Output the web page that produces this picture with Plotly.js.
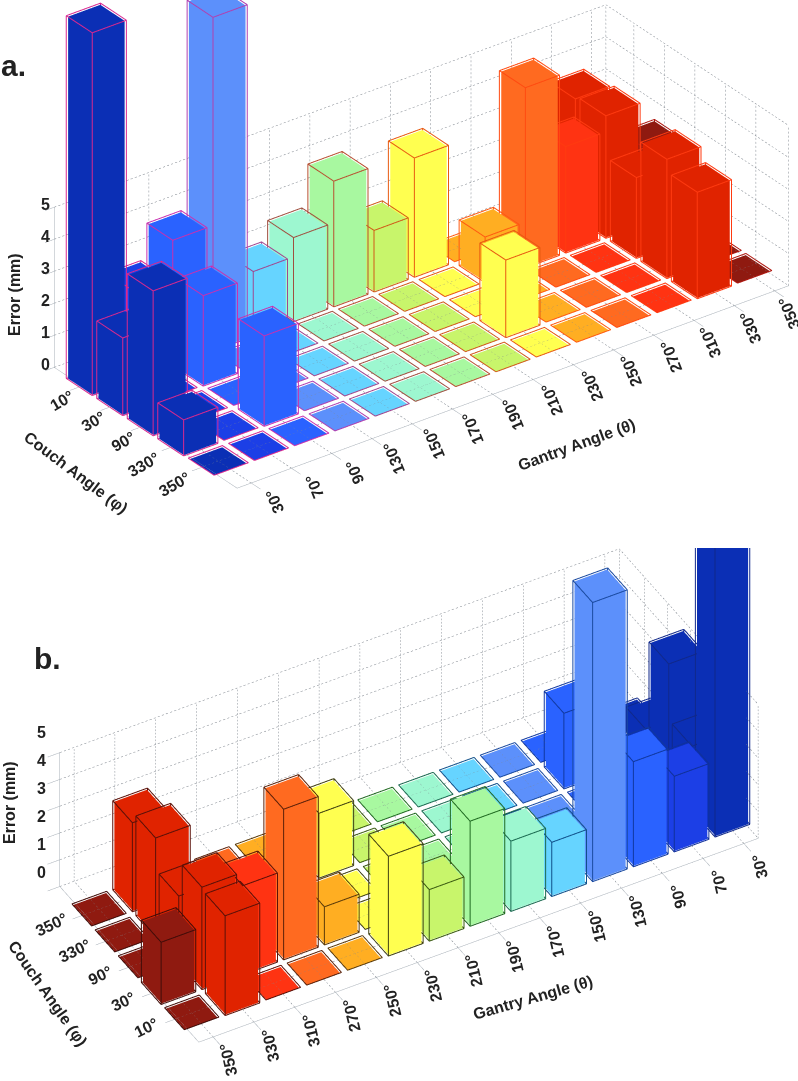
<!DOCTYPE html>
<html><head><meta charset="utf-8">
<script src="https://cdn.plot.ly/plotly-3.0.1.min.js"></script>
<style>html,body{margin:0;padding:0;background:#fff}#c{width:798px;height:1081px}</style>
</head><body><div id="c"></div>
<script>
const gantryLabels=['30°','70°','90°','130°','150°','170°','190°','210°','230°','250°','270°','310°','330°','350°'];
const couchLabels=['10°','30°','90°','330°','350°'];
const errorTicks=[0,1,2,3,4,5];
const couch10 =[11.3,2.8,3.9,10.4,2.0,2.6,3.9,1.9,3.7,0,0,0,3.7,0];
const couch30 =[2.4,0,2.8,0,0,0,0,0,0,1.4,5.6,3.3,3.8,2.3];
const couch90 =[4.5,0,0,0,0,0,0,0,0,0,0,0,2.5,0];
const couch330=[1.1,0,2.8,0,0,0,0,0,2.4,0,0,0,3.7,0];
const couch350=[0,0,0,0,0,0,0,0,0,0,0,0,3.3,0];
const errors=[couch10,couch30,couch90,couch330,couch350];
const faceColors=['#0b2fb5','#1c3fe6','#2a62ff','#5c90fb','#66d4ff','#9df7d0','#a8f8a0','#c8f56b','#ffff50','#ffae22','#ff6a20','#ff3312','#e02300','#8f1a10'];
const edgeA=['#d8288f','#d8288f','#c830b0','#b040b0','#a04890','#a05040','#b85030','#d05a18','#e85a10','#ff5a10','#ff4a10','#ff3a10','#ff3a10','#b01810'];
const edgeB=['#10288a','#10309a','#10389f','#1a4aa0','#10508a','#1a6a50','#1f6a20','#3a5a10','#404010','#5a3a08','#5a2008','#5a1008','#5a1008','#400c08'];

const X_MAX=13.7,Y_MAX=6,X0=0.35,Y0=0.92,W=0.8,EPS=0.025,PAD=1;
const gx=k=>k+X0, cy=m=>Y_MAX-(m+Y0);

function barsFor(edge,sceneName){
  const out=[];
  gantryLabels.forEach((_,k)=>{
    const X=[],Y=[],Z=[],I=[],J=[],K=[],ex=[],ey=[],ez=[];
    couchLabels.forEach((__,m)=>{
      const h=errors[m][k]||0.001,x0=gx(k)-W/2,x1=gx(k)+W/2,y0=cy(m)-W/2,y1=cy(m)+W/2,b=X.length;
      [[x0,y0,0],[x1,y0,0],[x1,y1,0],[x0,y1,0],[x0,y0,h],[x1,y0,h],[x1,y1,h],[x0,y1,h]].forEach(p=>{X.push(p[0]);Y.push(p[1]);Z.push(p[2]);});
      [[0,1,2],[0,2,3],[4,5,6],[4,6,7],[0,1,5],[0,5,4],[1,2,6],[1,6,5],[2,3,7],[2,7,6],[3,0,4],[3,4,7]].forEach(t=>{I.push(b+t[0]);J.push(b+t[1]);K.push(b+t[2]);});
      const path=pts=>{pts.forEach(p=>{ex.push(p[0]);ey.push(p[1]);ez.push(p[2]);});ex.push(null);ey.push(null);ez.push(null);};
      const a0=x0-EPS,a1=x1+EPS,c0=y0-EPS,c1=y1+EPS,t=h+EPS;
      path([[a0,c0,t],[a1,c0,t],[a1,c1,t],[a0,c1,t],[a0,c0,t]]);
      if(errors[m][k]>0){path([[a0,c0,0],[a1,c0,0],[a1,c1,0],[a0,c1,0],[a0,c0,0]]);
        path([[a0,c0,0],[a0,c0,t]]);path([[a1,c0,0],[a1,c0,t]]);path([[a1,c1,0],[a1,c1,t]]);path([[a0,c1,0],[a0,c1,t]]);}
    });
    out.push({type:'mesh3d',scene:sceneName,x:X,y:Y,z:Z,i:I,j:J,k:K,color:faceColors[k],flatshading:true,
      lighting:{ambient:1,diffuse:0,specular:0,fresnel:0,roughness:1},hoverinfo:'skip',showscale:false});
    out.push({type:'scatter3d',scene:sceneName,mode:'lines',x:ex,y:ey,z:ez,line:{color:edge[k],width:2},hoverinfo:'skip',showlegend:false});
  });
  return out;
}
function seg(a,pts){pts.forEach(p=>{a.x.push(p[0]);a.y.push(p[1]);a.z.push(p[2]);});a.x.push(null);a.y.push(null);a.z.push(null);}
function dotted(a,p,q){
  const dots=Math.max(1,Math.round(Math.hypot((q[0]-p[0])*10,(q[1]-p[1])*9,(q[2]-p[2])*8)));
  for(let n=0;n<dots;n++){const f=n/dots,g=(n+0.5)/dots;
    seg(a,[[p[0]+(q[0]-p[0])*f,p[1]+(q[1]-p[1])*f,p[2]+(q[2]-p[2])*f],[p[0]+(q[0]-p[0])*g,p[1]+(q[1]-p[1])*g,p[2]+(q[2]-p[2])*g]]);}
}
function gridFor(sceneName,cornerX,cornerY,farX,farY,signX,signY){
  const d={x:[],y:[],z:[]},s={x:[],y:[],z:[]};
  const ZT=errorTicks[errorTicks.length-1];
  errorTicks.forEach(z=>{dotted(d,[cornerX,farY,z],[farX,farY,z]);dotted(d,[farX,farY,z],[farX,cornerY,z]);
    seg(s,[[cornerX,farY,z],[cornerX-signX*0.3,farY,z]]);});
  gantryLabels.forEach((_,k)=>{dotted(d,[gx(k),cornerY,0],[gx(k),farY,0]);dotted(d,[gx(k),farY,0],[gx(k),farY,ZT]);
    seg(s,[[gx(k),cornerY,0],[gx(k),cornerY-signY*0.3,0]]);});
  couchLabels.forEach((_,m)=>{dotted(d,[cornerX,cy(m),0],[farX,cy(m),0]);dotted(d,[farX,cy(m),0],[farX,cy(m),ZT]);
    seg(s,[[cornerX,cy(m),0],[cornerX-signX*0.3,cy(m),0]]);});
  dotted(d,[farX,farY,0],[farX,farY,ZT]);dotted(d,[farX,cornerY,0],[farX,cornerY,ZT]);
  seg(s,[[cornerX,farY,0],[cornerX,cornerY,0],[farX,cornerY,0]]);
  seg(s,[[cornerX,farY,0],[cornerX,farY,ZT]]);
  return [
    {type:'scatter3d',scene:sceneName,mode:'lines',x:d.x,y:d.y,z:d.z,line:{color:'#7f868e',width:1},hoverinfo:'skip',showlegend:false},
    {type:'scatter3d',scene:sceneName,mode:'lines',x:s.x,y:s.y,z:s.z,line:{color:'#a8b0b8',width:1},hoverinfo:'skip',showlegend:false}
  ];
}
const lab={font:{family:'Liberation Sans, Arial, sans-serif',size:16,color:'#222'},showarrow:false};
function annFor(cornerX,cornerY,farY,gs,c2,c3,gAngle,cAngle,zx,zy,zs){
  const a=[];
  gantryLabels.forEach((t,k)=>{const s=gs(k);a.push({...lab,x:gx(k),y:cornerY,z:0,text:'<b>'+t+'</b>',textangle:gAngle,xshift:s[0],yshift:s[1]});});
  couchLabels.forEach((t,m)=>{const s=t.length>3?c3:c2;a.push({...lab,x:cornerX,y:cy(m),z:0,text:'<b>'+t+'</b>',textangle:cAngle,xshift:s[0],yshift:s[1]});});
  errorTicks.forEach(z=>a.push({...lab,x:cornerX,y:farY,z:z,text:'<b>'+z+'</b>',xshift:zx,yshift:zy+zs*z}));
  return a;
}
function sceneCfg(dom,eye,asp,zr,anns){
  const ax=r=>({visible:false,range:r,autorange:false});
  return {domain:dom,aspectmode:'manual',aspectratio:asp,camera:{projection:{type:'orthographic'},eye:eye,center:{x:0,y:0,z:0},up:{x:0,y:0,z:1}},
    xaxis:ax([-PAD,X_MAX+PAD]),yaxis:ax([-PAD,Y_MAX+PAD]),zaxis:ax(zr),bgcolor:'#fff',annotations:anns};
}
function eyeOf(phi,e,d,sx,sy){const p=phi*Math.PI/180,t=e*Math.PI/180;return {x:sx*Math.sin(p)*Math.cos(t)*d,y:sy*Math.cos(p)*Math.cos(t)*d,z:Math.sin(t)*d};}
const H=548/1081;
const sA=274,sB=266.5;
const xPad=(X_MAX+2*PAD)/X_MAX,yPad=(Y_MAX+2*PAD)/Y_MAX;
const layout={width:798,height:1081,margin:{l:0,r:0,t:0,b:0},paper_bgcolor:'#fff',showlegend:false,
 scene:sceneCfg({x:[45/798,1],y:[1-H,1]},eyeOf(36.7,29.5,8,-1,-1),{x:688*xPad/sA,y:306*yPad/sA,z:36.8*24.72/sA},[-10.72,14],
   annFor(0,0,Y_MAX,k=>[24-0.7*k,-18-0.3*k],[-20,-15],[-30,-18],-112,-30,-9,3,0)),
 scene2:sceneCfg({x:[20/798,1],y:[0,1-H]},eyeOf(29.7,39.7,8,1,1),{x:644*xPad/sB,y:280.5*yPad/sB,z:34.8*24.42/sB},[-10.42,14],
   annFor(X_MAX,Y_MAX,0,k=>[16,-23],[-31,-9],[-33,-10],-103,-26,-18,14,1.2)),
 annotations:[
  ['<b>a.</b>',13,65,0,30],['<b>b.</b>',47,658,0,30],
  ['<b>Error (mm)</b>',14,295,-90,16],['<b>Couch Angle (φ)</b>',76,472,37,16],['<b>Gantry Angle (θ)</b>',577,445,-20,16],
  ['<b>Error (mm)</b>',9,803,-90,16],['<b>Couch Angle (φ)</b>',48,993,55,16],['<b>Gantry Angle (θ)</b>',533,997,-16,16]
 ].map(a=>({text:a[0],xref:'paper',yref:'paper',x:a[1]/798,y:1-a[2]/1081,textangle:a[3],showarrow:false,xanchor:'center',yanchor:'middle',
   font:{family:'Liberation Sans, Arial, sans-serif',size:a[4],color:'#222'}}))
};
const data=[...gridFor('scene',0,0,X_MAX,Y_MAX,1,1),...barsFor(edgeA,'scene'),
            ...gridFor('scene2',X_MAX,Y_MAX,0,0,-1,-1),...barsFor(edgeB,'scene2')];
Plotly.newPlot('c',data,layout,{displayModeBar:false,scrollZoom:false});
</script></body></html>
